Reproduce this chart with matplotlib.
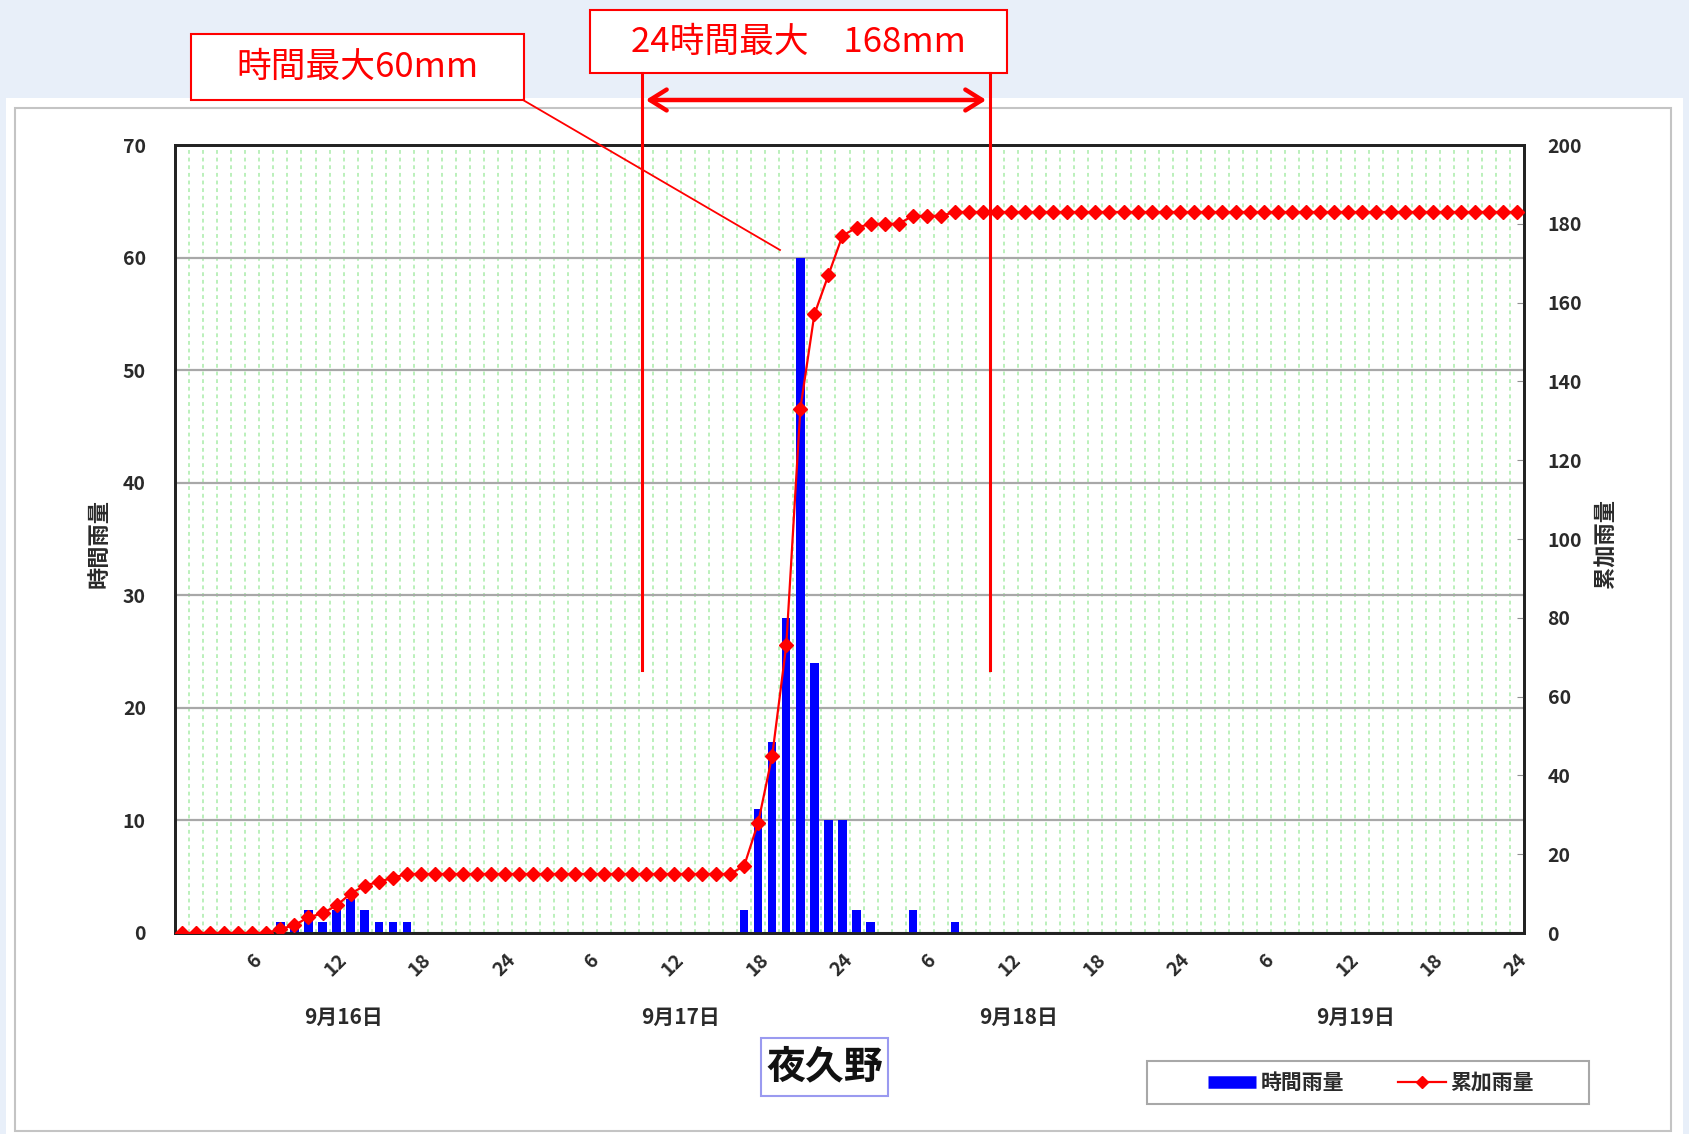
import numpy as np
import matplotlib
matplotlib.use("Agg")
import matplotlib.pyplot as plt
from matplotlib.lines import Line2D
from matplotlib.patches import Rectangle, FancyArrowPatch

plt.rcParams['font.family'] = ['Noto Sans CJK JP', 'DejaVu Sans']

# ---------------- data ----------------
n_hours = 96
hour_index = np.arange(n_hours)
rain_idx = [7, 8, 9, 10, 11, 12, 13, 14, 15, 16,
            40, 41, 42, 43, 44, 45, 46, 47, 48, 49, 52, 55]
rain_val = [1, 1, 2, 1, 2, 3, 2, 1, 1, 1,
            2, 11, 17, 28, 60, 24, 10, 10, 2, 1, 2, 1]
hourly = np.zeros(n_hours)
hourly[rain_idx] = rain_val
cumulative = np.cumsum(hourly)

xtick_pos = list(range(6, 97, 6))
xtick_labels = ['6', '12', '18', '24'] * 4
date_pos = [12, 36, 60, 84]
date_labels = ['9月16日', '9月17日', '9月18日', '9月19日']
left_ticks = list(range(0, 71, 10))
right_ticks = list(range(0, 201, 20))
station = '夜久野'
series_names = ['時間雨量', '累加雨量']
note1 = '時間最大60mm'
note2 = '24時間最大\u3000168mm'

# ---------------- figure ----------------
W, H = 1689, 1134
fig = plt.figure(figsize=(W / 100, H / 100), dpi=100, facecolor='#e8eff9')

def fx(x):
    return x / W

def fy(y):
    return 1 - y / H

def frect(x0, y0, x1, y1, **kw):
    r = Rectangle((fx(x0), fy(y1)), fx(x1) - fx(x0), fy(y0) - fy(y1),
                  transform=fig.transFigure, **kw)
    fig.add_artist(r)
    return r

# white panel + grey frame
frect(6, 98, 1683, 1134, facecolor='white', edgecolor='none', zorder=0)
frect(15, 108, 1671, 1131, facecolor='none', edgecolor='#c4c4c4', lw=1.5, zorder=0.5)

ax = fig.add_axes([fx(175), fy(933), (1524 - 175) / W, (933 - 145) / H])
ax.set_facecolor('white')
ax.bar(hour_index + 0.5, hourly, width=0.6, color='#0000ff', zorder=3)
ax.set_xlim(0, n_hours)
ax.set_ylim(0, 70)
ax.set_yticks(left_ticks)
ax.set_axisbelow(True)

ax.set_xticks(xtick_pos)
ax.set_xticklabels(xtick_labels, rotation=45, ha='right', va='center',
                   rotation_mode='anchor', fontweight='bold')
ax.set_xticks(range(1, n_hours), minor=True)
ax.tick_params(axis='x', which='both', length=0, pad=17, labelsize=14,
               labelcolor='#2a2a2a')
ax.tick_params(axis='y', length=0, pad=21, labelsize=14, labelcolor='#2a2a2a')
for t in ax.get_yticklabels():
    t.set_fontweight('bold')
ax.grid(axis='x', which='both', color='#a8eca8', linestyle=(0, (2.5, 2.5)), lw=1.1)
ax.grid(axis='y', which='major', color='#a8a8a8', lw=1.6)

ax2 = ax.twinx()
ax2.plot(hour_index + 0.5, cumulative, color='#ff0000', lw=1.6, marker='D',
         ms=7.2, markeredgecolor='#ff0000', markerfacecolor='#ff0000', zorder=4)
ax2.set_ylim(0, 200)
ax2.set_yticks(right_ticks)
ax2.tick_params(axis='y', direction='in', length=5, color='#909090', pad=17,
                labelsize=14, labelcolor='#2a2a2a')
for t in ax2.get_yticklabels():
    t.set_fontweight('bold')

for a in (ax, ax2):
    for s in a.spines.values():
        s.set_color('#222222')
        s.set_linewidth(2)

for xp, lab in zip(date_pos, date_labels):
    ax.text(xp, -0.107, lab, transform=ax.get_xaxis_transform(), ha='center',
            va='center', fontsize=15, color='#2a2a2a', fontweight='bold')

fig.text(fx(99), fy(544), series_names[0], rotation=90, ha='center', va='center',
         fontsize=16, fontweight='bold', color='#2a2a2a')
fig.text(fx(1606), fy(544), series_names[1], rotation=90, ha='center', va='center',
         fontsize=16, fontweight='bold', color='#2a2a2a')

# station title
frect(761, 1038, 888, 1096, facecolor='white', edgecolor='#9a9af0', lw=1.5, zorder=2)
fig.text(fx(824.5), fy(1067), station, ha='center', va='center', fontsize=28,
         fontweight='bold', color='#111111', zorder=3)

# legend
frect(1147, 1061, 1589, 1104, facecolor='white', edgecolor='#a8a8a8', lw=1.5, zorder=2)
handles = [Line2D([], [], color='#0000ff', lw=9, solid_capstyle='butt'),
           Line2D([], [], color='#ff0000', lw=1.6, marker='D', ms=6.5)]
leg = fig.legend(handles, series_names, loc='center',
                 bbox_to_anchor=(fx(1371), fy(1082.5)), ncol=2, frameon=False,
                 fontsize=15, handlelength=2.3, handletextpad=0.2,
                 columnspacing=2.6)
for t in leg.get_texts():
    t.set_color('#2a2a2a')
    t.set_fontweight('bold')
leg.set_zorder(3)

# red annotations
red = '#ff0000'
frect(191, 34, 524, 100, facecolor='white', edgecolor=red, lw=1.5, zorder=5)
fig.text(fx(357), fy(67), note1, ha='center', va='center', fontsize=25,
         color=red, zorder=6)
frect(590, 10, 1007, 73, facecolor='white', edgecolor=red, lw=1.5, zorder=5)
fig.text(fx(798), fy(42), note2, ha='center', va='center', fontsize=25,
         color=red, zorder=6)

for xv in (642, 990):
    fig.add_artist(Line2D([fx(xv), fx(xv)], [fy(73), fy(670)],
                          transform=fig.transFigure, color=red, lw=2.2, zorder=6))
fig.add_artist(Line2D([fx(523), fx(780)], [fy(100), fy(250)],
                      transform=fig.transFigure, color=red, lw=1.3, zorder=6))
arr = FancyArrowPatch((fx(643), fy(100)), (fx(989), fy(100)),
                      transform=fig.transFigure, arrowstyle='<->,head_length=8,head_width=5',
                      color=red, lw=3.2, mutation_scale=1.5, zorder=6)
fig.add_artist(arr)

fig.savefig('out.png', dpi=100, facecolor=fig.get_facecolor())
